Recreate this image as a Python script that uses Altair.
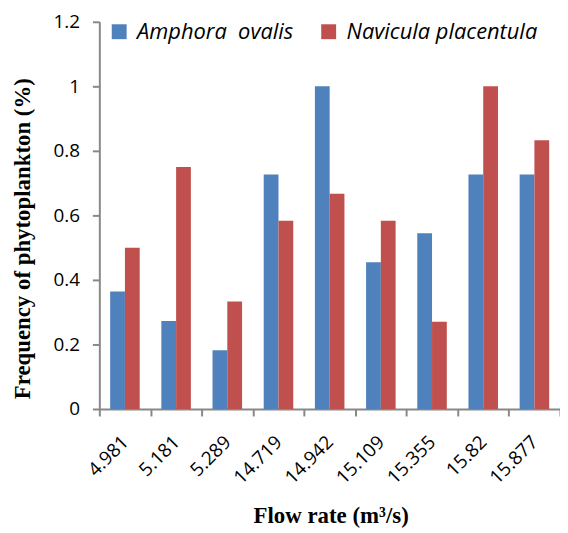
import altair as alt
import pandas as pd

flow_rates = ["4.981", "5.181", "5.289", "14.719", "14.942", "15.109", "15.355", "15.82", "15.877"]
amphora_ovalis = [0.364, 0.273, 0.182, 0.727, 1.0, 0.455, 0.545, 0.727, 0.727]
navicula_placentula = [0.5, 0.75, 0.333, 0.583, 0.667, 0.583, 0.27, 1.0, 0.833]
series_names = ["Amphora\u00a0 ovalis", "Navicula placentula"]
series_colors = ["#4F81BD", "#C0504D"]
y_ticks = [0, 0.2, 0.4, 0.6, 0.8, 1.0, 1.2]

rows = []
for i, f in enumerate(flow_rates):
    rows.append({"flow": f, "species": series_names[0], "freq": amphora_ovalis[i]})
    rows.append({"flow": f, "species": series_names[1], "freq": navicula_placentula[i]})
df = pd.DataFrame(rows)

label_font = "Open Sans"
title_font = "Liberation Serif"
axis_gray = "#888888"

chart = alt.Chart(df).mark_bar().encode(
    x=alt.X(
        "flow:N",
        sort=flow_rates,
        scale=alt.Scale(paddingInner=0, paddingOuter=0),
        axis=alt.Axis(
            title="Flow rate (m³/s)",
            labelAngle=-45,
            labelAlign="right",
            labelBaseline="middle",
            labelPadding=23,
            tickBand="extent",
            titleX=233,
            titleY=114,
            titleBaseline="alphabetic",
            titleAlign="center",
        ),
    ),
    xOffset=alt.XOffset(
        "species:N",
        sort=series_names,
        scale=alt.Scale(paddingInner=0, paddingOuter=0.733),
    ),
    y=alt.Y(
        "freq:Q",
        scale=alt.Scale(domain=[0, 1.2], nice=False),
        axis=alt.Axis(
            title="Frequency of phytoplankton (%)",
            values=y_ticks,
            format=".1~f",
            grid=False,
            labelPadding=13,
            titleX=-70,
            titleY=218,
            titleAngle=270,
            titleBaseline="alphabetic",
            titleAlign="center",
        ),
    ),
    color=alt.Color(
        "species:N",
        sort=series_names,
        scale=alt.Scale(domain=series_names, range=series_colors),
        legend=alt.Legend(
            title=None,
            orient="none",
            legendX=9,
            legendY=-1,
            direction="horizontal",
            columns=2,
            symbolType="square",
            symbolSize=225,
            symbolStrokeWidth=0,
            labelFontStyle="italic",
            labelFont=label_font,
            labelFontSize=22,
            labelLimit=400,
            labelColor="#000000",
            labelOffset=7,
            columnPadding=24,
            padding=0,
        ),
    ),
).properties(
    width=464,
    height=390,
    autosize="none",
    padding={"left": 92, "top": 12, "right": 0, "bottom": 120},
).configure_view(
    stroke=None
).configure_axis(
    domainColor=axis_gray,
    domainWidth=2,
    tickColor=axis_gray,
    tickWidth=2,
    tickSize=7,
    labelFont=label_font,
    labelFontSize=19,
    labelColor="#000000",
    titleFont=title_font,
    titleFontSize=23,
    titleFontWeight="bold",
    titleColor="#000000",
)

chart.save("out.html", embed_options={"renderer": "svg", "actions": False})
